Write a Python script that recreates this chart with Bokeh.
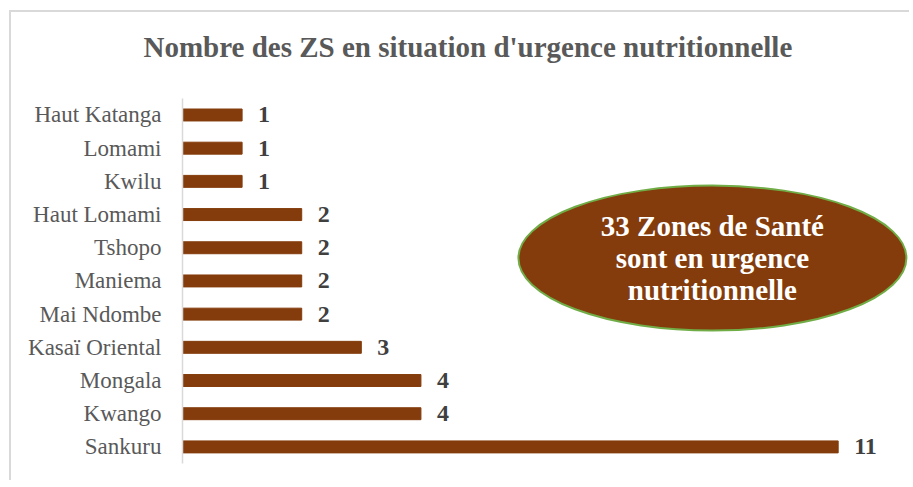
from bokeh.plotting import figure
from bokeh.models import Range1d, FixedTicker, Title
from bokeh.core.properties import value
from bokeh.embed import file_html
from bokeh.resources import INLINE

# Data (bottom to top)
provinces = ["Sankuru", "Kwango", "Mongala", "Kasaï Oriental", "Mai Ndombe",
             "Maniema", "Tshopo", "Haut Lomami", "Kwilu", "Lomami", "Haut Katanga"]
counts = [11, 4, 4, 3, 2, 2, 2, 2, 1, 1, 1]
title_text = "Nombre des ZS en situation d'urgence nutritionnelle"
callout_text = "33 Zones de Santé\nsont en urgence\nnutritionnelle"

positions = list(range(1, len(provinces) + 1))  # one slot per province

W, H = 900, 470
BAR = "#843C0C"
SERIF = "Liberation Serif"

p = figure(width=W, height=H, output_backend="svg", toolbar_location=None,
           y_range=Range1d(0.5, 12.28), x_range=Range1d(0, 12.23),
           min_border_left=171, min_border_right=0, min_border_top=60, min_border_bottom=19)
p.title = None
t = Title(text=title_text, align="left", offset=-39, standoff=19,
          text_font=SERIF, text_font_size="29px", text_font_style="bold",
          text_color="#595959")
p.add_layout(t, "above")

p.styles = {"border-left": "2px solid #D9D9D9", "border-top": "2px solid #D9D9D9",
            "margin-left": "9px", "margin-top": "10px"}

p.outline_line_color = None
p.background_fill_color = "white"
p.border_fill_color = "white"
p.xgrid.visible = False
p.ygrid.visible = False
p.xaxis.visible = False

ax = p.yaxis[0]
ax.ticker = FixedTicker(ticks=positions)
ax.major_label_overrides = {pos: name for pos, name in zip(positions, provinces)}
ax.bounds = (0.5, len(provinces) + 0.5)
ax.axis_line_color = "#D9D9D9"
ax.axis_line_width = 1.5
ax.major_tick_line_color = None
ax.minor_tick_line_color = None
ax.major_tick_out = 0
ax.major_tick_in = 0
ax.major_label_standoff = 21
ax.major_label_text_font = SERIF
ax.major_label_text_font_size = "23px"
ax.major_label_text_color = "#595959"

p.hbar(y=positions, right=counts, left=0, height=0.36,
       fill_color=BAR, line_color=BAR)

p.text(x=counts, y=positions, text=[str(c) for c in counts],
       x_offset=16, text_baseline="middle", text_align="left",
       text_font=value(SERIF), text_font_size="24px", text_font_style="bold",
       text_color="#404040")

# Callout ellipse
p.ellipse(x=[8.89], y=[6.69], width=[388], height=[145],
          width_units="screen", height_units="screen",
          fill_color=BAR, line_color="#70AD47", line_width=2)
p.text(x=[8.89], y=[6.69], text=[callout_text], text_align="center",
       text_baseline="middle", text_line_height=1.0,
       text_font=value(SERIF), text_font_size="29px", text_font_style="bold",
       text_color="white")

open("out.html", "w").write(file_html(p, INLINE))
